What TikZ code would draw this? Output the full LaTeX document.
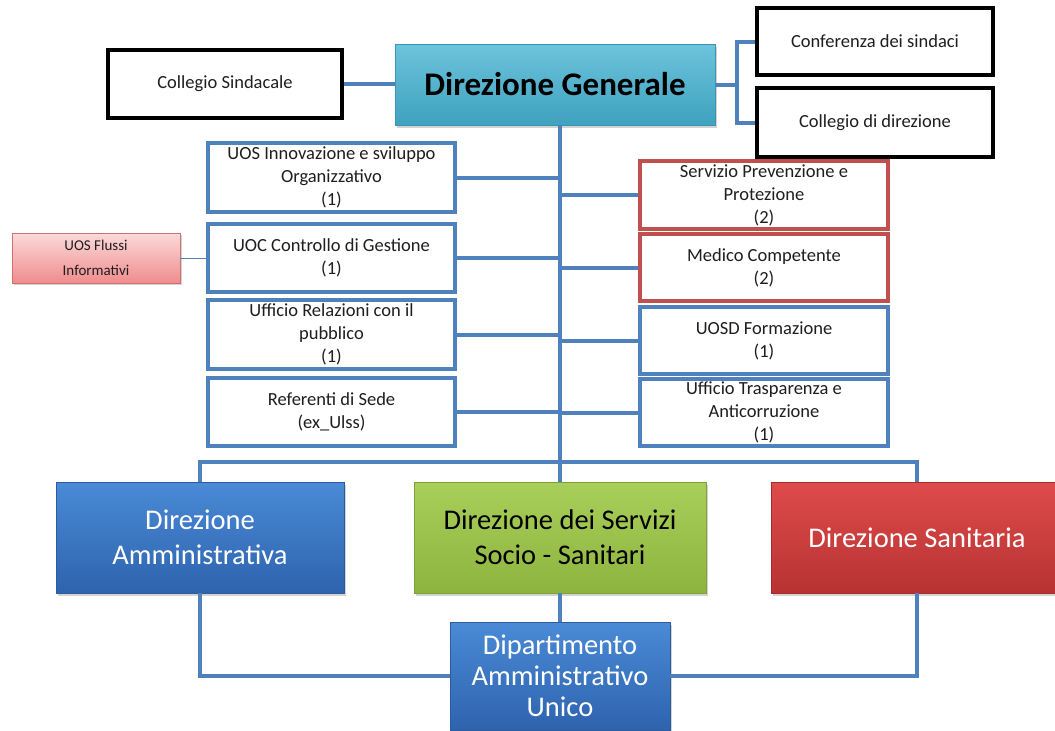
\documentclass[tikz,border=0pt]{standalone}
\usepackage{fontspec}
\setmainfont{Carlito}
\usetikzlibrary{shadows}
\definecolor{lineblue}{HTML}{4F81BD}
\definecolor{boxred}{HTML}{C0504D}
\definecolor{txt}{HTML}{1E1E1E}
\definecolor{dgtop}{HTML}{6CC3DC}
\definecolor{dgbot}{HTML}{3FA2BE}
\definecolor{dgdraw}{HTML}{3A95AF}
\definecolor{bltop}{HTML}{4A8AD6}
\definecolor{blbot}{HTML}{2E63AE}
\definecolor{bldraw}{HTML}{2C5C9E}
\definecolor{grtop}{HTML}{A9CF5A}
\definecolor{grbot}{HTML}{8DB43E}
\definecolor{grdraw}{HTML}{7FA236}
\definecolor{rdtop}{HTML}{DE4B4B}
\definecolor{rdbot}{HTML}{B83232}
\definecolor{rddraw}{HTML}{A52C2C}
\definecolor{pktop}{HTML}{FBDADA}
\definecolor{pkbot}{HTML}{F08C8C}
\definecolor{pkdraw}{HTML}{D07070}
\tikzset{
  x=1pt, y=-1pt,
  link/.style={draw=lineblue, line width=4pt},
  thinlink/.style={draw=lineblue, line width=1pt},
  base/.style={inner sep=0pt, align=center, text=txt},
  blackbox/.style={base, draw=black, line width=4pt, fill=white, font=\fontsize{18.5}{23}\selectfont},
  bluebox/.style={base, draw=lineblue, line width=4pt, fill=white, font=\fontsize{18.5}{23}\selectfont},
  redbox/.style={base, draw=boxred, line width=4pt, fill=white, font=\fontsize{18.5}{23}\selectfont},
  bigbox/.style={base, font=\fontsize{28.5}{35}\selectfont, drop shadow={shadow xshift=2pt, shadow yshift=-2.5pt, opacity=0.35}},
}
\begin{document}
\begin{tikzpicture}
\useasboundingbox (0,0) rectangle (1055,731);
% top row
\node[bigbox, top color=dgtop, bottom color=dgbot, draw=dgdraw, line width=0.6pt,
  minimum width=320pt, minimum height=81pt, font=\fontsize{33}{36}\selectfont\bfseries, text=black] (dg) at (555,84.5) {Direzione Generale};
\node[blackbox, minimum width=234pt, minimum height=68pt] (cs) at (225,84) {Collegio Sindacale};
\node[blackbox, minimum width=236pt, minimum height=67pt] (conf) at (875,41.5) {Conferenza dei sindaci};
\node[blackbox, minimum width=236pt, minimum height=69pt] (cdir) at (875,122.5) {Collegio di direzione};
% left staff boxes
\node[bluebox, minimum width=247pt, minimum height=69pt] (uos) at (331.5,177.5) {UOS Innovazione e sviluppo\\Organizzativo\\(1)};
\node[bluebox, minimum width=247pt, minimum height=68pt] (uoc) at (331.5,258) {UOC Controllo di Gestione\\(1)};
\node[bluebox, minimum width=247pt, minimum height=69pt] (urp) at (331.5,334.5) {Ufficio Relazioni con il\\pubblico\\(1)};
\node[bluebox, minimum width=247pt, minimum height=68pt] (ref) at (331.5,412) {Referenti di Sede\\(ex\_Ulss)};
% right staff boxes
\node[redbox, minimum width=248pt, minimum height=68pt] (spp) at (764,195) {Servizio Prevenzione e\\Protezione\\(2)};
\node[redbox, minimum width=248pt, minimum height=67pt] (mc) at (764,267.5) {Medico Competente\\(2)};
\node[bluebox, minimum width=248pt, minimum height=67pt] (form) at (764,340.5) {UOSD Formazione\\(1)};
\node[bluebox, minimum width=248pt, minimum height=67pt] (trasp) at (764,412.5) {Ufficio Trasparenza e\\Anticorruzione\\(1)};
% flussi
\node[base, top color=pktop, bottom color=pkbot, draw=pkdraw, line width=0.8pt,
  drop shadow={shadow xshift=2pt, shadow yshift=-2pt, opacity=0.35},
  minimum width=168pt, minimum height=50pt, font=\fontsize{15}{25}\selectfont] (fl) at (96,258) {UOS Flussi\\Informativi};
% directions
\node[bigbox, top color=bltop, bottom color=blbot, draw=bldraw, line width=0.6pt, text=white,
  minimum width=288pt, minimum height=111pt] (da) at (200,537.5) {Direzione\\Amministrativa};
\node[bigbox, top color=grtop, bottom color=grbot, draw=grdraw, line width=0.6pt, text=black,
  minimum width=292pt, minimum height=111pt] (dss) at (560,537.5) {Direzione dei Servizi\\Socio - Sanitari};
\node[bigbox, top color=rdtop, bottom color=rdbot, draw=rddraw, line width=0.6pt, text=white,
  minimum width=292pt, minimum height=111pt] (ds) at (917,537.5) {Direzione Sanitaria};
\node[bigbox, top color=bltop, bottom color=blbot, draw=bldraw, line width=0.6pt, text=white,
  minimum width=220pt, minimum height=108pt, font=\fontsize{28.5}{31}\selectfont] (dau) at (560,676) {Dipartimento\\Amministrativo\\Unico};
% coordinates
\coordinate (bar) at (560,462);
\coordinate (br) at (737,84.5);
% connectors
\draw[link] (cs.east) -- (dg.west |- cs.east);
\draw[link] (dg.east) -- (br);
\draw[link] (conf.west) -| (br) |- (cdir.west);
\draw[link] (dg.south -| bar) -- (bar);
\foreach \n in {uos,uoc,urp,ref} \draw[link] (\n.east) -- (\n.east -| bar);
\foreach \n in {spp,mc,form,trasp} \draw[link] (\n.west) -- (\n.west -| bar);
\draw[link] (da.north) |- (bar) -| (ds.north);
\draw[link] (bar) -- (dss.north);
\draw[link] (da.south) |- (dau.west);
\draw[link] (ds.south) |- (dau.east);
\draw[link] (dss.south) -- (dau.north);
\draw[thinlink] (fl.east) -- (uoc.west);
\end{tikzpicture}
\end{document}
